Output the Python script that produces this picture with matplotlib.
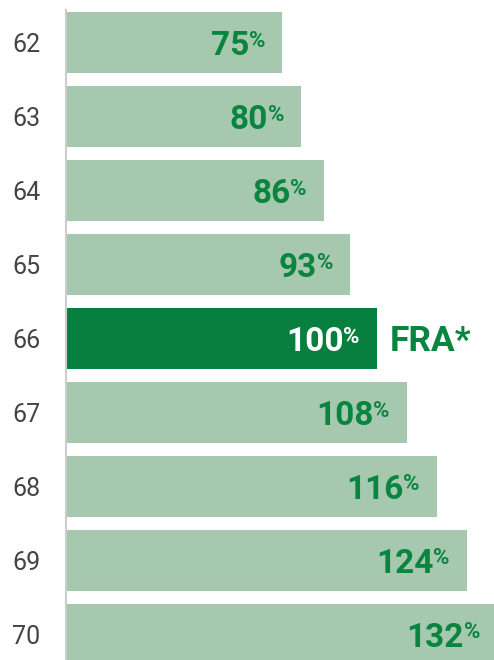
import matplotlib
matplotlib.use("Agg")
from matplotlib import pyplot as plt

ages = ["62", "63", "64", "65", "66", "67", "68", "69", "70"]
values = [75, 80, 86, 93, 100, 108, 116, 124, 132]
highlight = "66"
highlight_label = "FRA*"

light = "#a5c8ae"
dark = "#07803f"
green = "#0a8540"

plt.rcParams["font.family"] = ["Roboto", "DejaVu Sans"]

fig = plt.figure(figsize=(4.94, 6.6), dpi=100)
ax = fig.add_axes([66 / 494, 0, 1 - 66 / 494, 1 - 10 / 660])

pos = list(range(len(ages)))
colors = [dark if a == highlight else light for a in ages]
ax.barh(pos, values, height=0.82, color=colors, zorder=2)

ax.set_xlim(17.5, 131.2)
ax.set_ylim(len(ages) - 1 + 0.345, -0.44)
ax.set_yticks(pos)
ax.set_yticklabels(ages, fontsize=18, color="#444444")
ax.tick_params(axis="y", length=0, pad=18.5)
ax.set_xticks([])
for s in ["top", "right", "bottom"]:
    ax.spines[s].set_visible(False)
ax.spines["left"].set_color("#cccccc")
ax.spines["left"].set_linewidth(1.5)

for i, (a, v) in enumerate(zip(ages, values)):
    c = "white" if a == highlight else green
    ax.annotate(str(v), xy=(v, i), xytext=(-33, -12.5), textcoords="offset pixels",
                ha="right", va="baseline", fontsize=24, fontweight="bold", color=c,
                annotation_clip=False)
    ax.annotate("%", xy=(v, i), xytext=(-33.5, -4), textcoords="offset pixels",
                ha="left", va="baseline", fontsize=16, fontweight="bold", color=c,
                annotation_clip=False)
    if a == highlight:
        ax.annotate(highlight_label, xy=(v, i), xytext=(13, -12), textcoords="offset pixels",
                    ha="left", va="baseline", fontsize=25.5, fontweight="bold", color=green)

fig.savefig("out.png", dpi=100)
